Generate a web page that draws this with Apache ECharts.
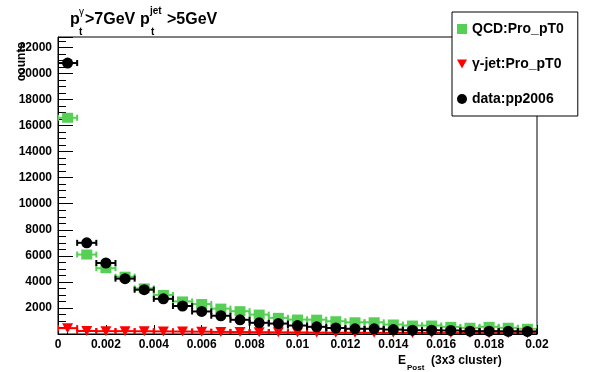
<!DOCTYPE html>
<html>
<head>
<meta charset="utf-8">
<script src="https://cdn.jsdelivr.net/npm/echarts@6/dist/echarts.min.js"></script>
<style>
html,body{margin:0;padding:0;background:#fff;}
#chart{width:596px;height:372px;}
</style>
</head>
<body>
<div id="chart"></div>
<script>
// ---- data ----
var binCenters = [0.0004,0.0012,0.0020,0.0028,0.0036,0.0044,0.0052,0.0060,0.0068,0.0076,
                  0.0084,0.0092,0.0100,0.0108,0.0116,0.0124,0.0132,0.0140,0.0148,0.0156,
                  0.0164,0.0172,0.0180,0.0188,0.0196];
var binHalfWidth = 0.0004;
var qcdValues   = [16600,6100,5050,4400,3500,3000,2500,2300,1950,1750,1490,1240,1110,1100,980,900,900,730,650,650,550,480,550,480,400];
var gjetValues  = [450,230,220,220,210,200,190,180,160,150,140,130,120,110,100,100,90,90,80,80,70,70,60,60,60];
var dataValues  = [20800,7000,5450,4250,3400,2700,2150,1730,1400,1090,860,800,650,550,460,400,400,340,290,290,270,220,220,210,200];
var seriesNames = ['QCD:Pro_pT0','\u03b3-jet:Pro_pT0','data:pp2006'];
var xTicks = {min:0, max:0.02, interval:0.002};
var yTicks = {min:0, max:22800, interval:2000};

function pairs(vals){ return binCenters.map(function(x,i){return [x, vals[i]];}); }

function errRender(color, capH){
  return function(params, api){
    var x = api.value(0), y = api.value(1);
    var p1 = api.coord([x - binHalfWidth, y]);
    var p2 = api.coord([x + binHalfWidth, y]);
    var st = {stroke: color, lineWidth: 2};
    return {type:'group', children:[
      {type:'line', shape:{x1:p1[0],y1:p1[1],x2:p2[0],y2:p2[1]}, style:st},
      {type:'line', shape:{x1:p1[0],y1:p1[1]-capH,x2:p1[0],y2:p1[1]+capH}, style:st},
      {type:'line', shape:{x1:p2[0],y1:p2[1]-capH,x2:p2[0],y2:p2[1]+capH}, style:st}
    ]};
  };
}

var green = '#55d055', red = '#ff0000', black = '#000000';
var downTri = 'path://M0,0L10,0L5,9Z';
var FONT = 'Liberation Sans, Arial, Helvetica, sans-serif';

var chart = echarts.init(document.getElementById('chart'), null, {renderer:'canvas'});
var option = {
  animation:false,
  backgroundColor:'#fff',
  grid:{left:58, right:59, top:37, bottom:38, show:true, borderColor:'#000', borderWidth:1, containLabel:false},
  xAxis:{
    type:'value', min:xTicks.min, max:xTicks.max, interval:xTicks.interval,
    axisLine:{show:true, onZero:false, lineStyle:{color:'#000', width:1}},
    axisTick:{show:true, inside:true, length:9, lineStyle:{color:'#000'}},
    minorTick:{show:true, splitNumber:5, length:5, lineStyle:{color:'#000'}},
    splitLine:{show:false},
    axisLabel:{color:'#000', fontFamily:FONT, fontWeight:'bold', fontSize:12, margin:5,
      formatter:function(v){ return String(+v.toFixed(4)); }}
  },
  yAxis:{
    type:'value', min:yTicks.min, max:yTicks.max, interval:yTicks.interval,
    axisLine:{show:true, lineStyle:{color:'#000', width:1}},
    axisTick:{show:true, inside:true, length:15, lineStyle:{color:'#000'}},
    minorTick:{show:true, splitNumber:4, length:8, lineStyle:{color:'#000'}},
    splitLine:{show:false},
    axisLabel:{color:'#000', fontFamily:FONT, fontWeight:'bold', fontSize:12, margin:6,
      formatter:function(v){ return (v===0 || v % 2000 !== 0) ? '' : String(v); }}
  },
  legend:{
    show:true, orient:'vertical', left:452, top:12,
    backgroundColor:'#fff', borderColor:'#000', borderWidth:1,
    padding:[10, 14, 10, 5], itemGap:21, itemWidth:10, itemHeight:10,
    textStyle:{color:'#000', fontFamily:FONT, fontWeight:'bold', fontSize:14},
    data:[
      {name:seriesNames[0], icon:'rect'},
      {name:seriesNames[1], icon:downTri},
      {name:seriesNames[2], icon:'circle'}
    ],
    selectedMode:false, z:20
  },
  graphic:[
    {type:'text', x:70, y:19.5, style:{text:'p', font:'bold 16px '+FONT, fill:'#000', textVerticalAlign:'middle'}, z:30},
    {type:'text', x:79, y:12, style:{text:'\u03b3', font:'10px '+FONT, fill:'#000', textVerticalAlign:'middle'}, z:30},
    {type:'text', x:79, y:32, style:{text:'t', font:'bold 10px '+FONT, fill:'#000', textVerticalAlign:'middle'}, z:30},
    {type:'text', x:85, y:19.5, style:{text:'>7GeV', font:'bold 16px '+FONT, fill:'#000', textVerticalAlign:'middle'}, z:30},
    {type:'text', x:140, y:19.5, style:{text:'p', font:'bold 16px '+FONT, fill:'#000', textVerticalAlign:'middle'}, z:30},
    {type:'text', x:150, y:11.5, style:{text:'jet', font:'bold 10px '+FONT, fill:'#000', textVerticalAlign:'middle'}, z:30},
    {type:'text', x:151, y:32, style:{text:'t', font:'bold 10px '+FONT, fill:'#000', textVerticalAlign:'middle'}, z:30},
    {type:'text', x:167, y:19.5, style:{text:'>5GeV', font:'bold 16px '+FONT, fill:'#000', textVerticalAlign:'middle'}, z:30},
    {type:'text', x:398, y:361, style:{text:'E', font:'bold 12px '+FONT, fill:'#000', textVerticalAlign:'middle'}, z:30},
    {type:'text', x:407, y:368, style:{text:'Post', font:'bold 8px '+FONT, fill:'#000', textVerticalAlign:'middle'}, z:30},
    {type:'text', x:431, y:361, style:{text:'(3x3 cluster)', font:'bold 12px '+FONT, fill:'#000', textVerticalAlign:'middle'}, z:30},
    {type:'text', x:22, y:42, rotation:Math.PI/2, style:{text:'counts', font:'bold 12px '+FONT, fill:'#000', textAlign:'right', textVerticalAlign:'middle'}, z:30}
  ],
  series:[
    {name:'qcdErr', type:'custom', renderItem:errRender(green,3), data:pairs(qcdValues), z:2, silent:true, clip:true},
    {name:seriesNames[0], type:'scatter', symbol:'rect', symbolSize:[11,10], itemStyle:{color:green, opacity:1}, data:pairs(qcdValues), z:3},
    {name:'gjetErr', type:'custom', renderItem:errRender(red,3), data:pairs(gjetValues), z:4, silent:true, clip:true},
    {name:seriesNames[1], type:'scatter', symbol:downTri, symbolSize:[11,10], itemStyle:{color:red, opacity:1}, data:pairs(gjetValues), z:5},
    {name:'dataErr', type:'custom', renderItem:errRender(black,3), data:pairs(dataValues), z:6, silent:true, clip:true},
    {name:seriesNames[2], type:'scatter', symbol:'circle', symbolSize:11, itemStyle:{color:black, opacity:1}, data:pairs(dataValues), z:7}
  ]
};
chart.setOption(option);
</script>
</body>
</html>
